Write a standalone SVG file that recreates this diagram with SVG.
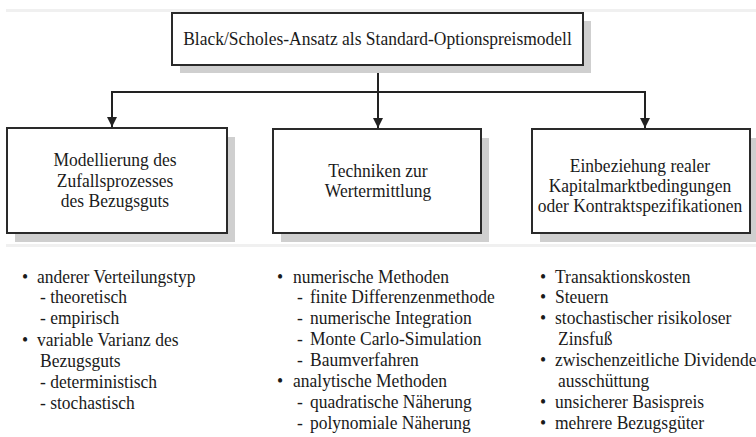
<svg xmlns="http://www.w3.org/2000/svg" width="756" height="437" viewBox="0 0 756 437">
<defs>
<marker id="arr" viewBox="0 0 10 10" refX="10" refY="5" markerWidth="5" markerHeight="5" orient="auto" markerUnits="strokeWidth">
<path d="M0,0 L10,5 L0,10 Z" fill="#222"/>
</marker>
<style>
.box{fill:#fff;stroke:#2a2a2a;stroke-width:2}
.sh{fill:#cfcfcf}
.t{font-family:"Liberation Serif","Times New Roman",serif;font-size:18.5px;fill:#1a1a1a}
.c{text-anchor:middle}
.con{fill:none;stroke:#222;stroke-width:2}
.art{stroke:#f0f0f0;stroke-width:3}
</style>
</defs>
<rect width="756" height="437" fill="#fff"/>
<line class="art" x1="6" y1="10.5" x2="756" y2="10.5"/>
<line class="art" x1="6" y1="245.5" x2="756" y2="245.5"/>

<g id="connectors">
<polyline class="con" points="378,65 378,92"/>
<polyline class="con" points="112,92 645,92"/>
<line class="con" x1="112" y1="91" x2="112" y2="127" marker-end="url(#arr)"/>
<line class="con" x1="378" y1="92" x2="378" y2="128" marker-end="url(#arr)"/>
<line class="con" x1="645" y1="91" x2="645" y2="128" marker-end="url(#arr)"/>
</g>

<g id="top">
<rect class="sh" x="180" y="21" width="411" height="52"/>
<rect class="box" x="172" y="13" width="411" height="52"/>
<text class="t c" transform="translate(377.5,45) scale(0.946,1)">Black/Scholes-Ansatz als Standard-Optionspreismodell</text>
</g>

<g id="box1">
<rect class="sh" x="15" y="137" width="220" height="105"/>
<rect class="box" x="7" y="128" width="220" height="105"/>
<text class="t c" transform="translate(115,166) scale(0.946,1)">Modellierung des</text>
<text class="t c" transform="translate(115,187) scale(0.946,1)">Zufallsprozesses</text>
<text class="t c" transform="translate(115,207) scale(0.946,1)">des Bezugsguts</text>
</g>

<g id="box2">
<rect class="sh" x="281" y="138" width="208" height="104"/>
<rect class="box" x="273" y="129" width="208" height="104"/>
<text class="t c" transform="translate(378,177) scale(0.946,1)">Techniken zur</text>
<text class="t c" transform="translate(378,197) scale(0.946,1)">Wertermittlung</text>
</g>

<g id="box3">
<rect class="sh" x="540" y="138" width="218" height="104"/>
<rect class="box" x="532" y="129" width="218" height="104"/>
<text class="t c" transform="translate(640,172) scale(0.946,1)">Einbeziehung realer</text>
<text class="t c" transform="translate(640,192) scale(0.946,1)">Kapitalmarktbedingungen</text>
<text class="t c" transform="translate(640,212) scale(0.946,1)">oder Kontraktspezifikationen</text>
</g>

<g id="list1">
<text class="t" transform="translate(22,283) scale(0.946,1)">•</text><text class="t" transform="translate(37,283) scale(0.946,1)">anderer Verteilungstyp</text>
<text class="t" transform="translate(40,303) scale(0.946,1)">- theoretisch</text>
<text class="t" transform="translate(40,324) scale(0.946,1)">- empirisch</text>
<text class="t" transform="translate(22,346) scale(0.946,1)">•</text><text class="t" transform="translate(37,346) scale(0.946,1)">variable Varianz des</text>
<text class="t" transform="translate(40,367) scale(0.946,1)">Bezugsguts</text>
<text class="t" transform="translate(40,388) scale(0.946,1)">- deterministisch</text>
<text class="t" transform="translate(40,409) scale(0.946,1)">- stochastisch</text>
</g>

<g id="list2">
<text class="t" transform="translate(277,283) scale(0.946,1)">•</text><text class="t" transform="translate(293,283) scale(0.946,1)">numerische Methoden</text>
<text class="t" transform="translate(297,303) scale(0.946,1)">-</text><text class="t" transform="translate(310,303) scale(0.946,1)">finite Differenzenmethode</text>
<text class="t" transform="translate(297,324) scale(0.946,1)">-</text><text class="t" transform="translate(310,324) scale(0.946,1)">numerische Integration</text>
<text class="t" transform="translate(297,345) scale(0.946,1)">-</text><text class="t" transform="translate(310,345) scale(0.946,1)">Monte Carlo-Simulation</text>
<text class="t" transform="translate(297,366) scale(0.946,1)">-</text><text class="t" transform="translate(310,366) scale(0.946,1)">Baumverfahren</text>
<text class="t" transform="translate(277,387) scale(0.946,1)">•</text><text class="t" transform="translate(293,387) scale(0.946,1)">analytische Methoden</text>
<text class="t" transform="translate(297,408) scale(0.946,1)">-</text><text class="t" transform="translate(310,408) scale(0.946,1)">quadratische Näherung</text>
<text class="t" transform="translate(297,429) scale(0.946,1)">-</text><text class="t" transform="translate(310,429) scale(0.946,1)">polynomiale Näherung</text>
</g>

<g id="list3">
<text class="t" transform="translate(540,283) scale(0.946,1)">•</text><text class="t" transform="translate(555,283) scale(0.946,1)">Transaktionskosten</text>
<text class="t" transform="translate(540,303) scale(0.946,1)">•</text><text class="t" transform="translate(555,303) scale(0.946,1)">Steuern</text>
<text class="t" transform="translate(540,324) scale(0.946,1)">•</text><text class="t" transform="translate(555,324) scale(0.946,1)">stochastischer risikoloser</text>
<text class="t" transform="translate(558,345) scale(0.946,1)">Zinsfuß</text>
<text class="t" transform="translate(540,366) scale(0.946,1)">•</text><text class="t" transform="translate(555,366) scale(0.946,1)">zwischenzeitliche Dividende</text>
<text class="t" transform="translate(558,387) scale(0.946,1)">ausschüttung</text>
<text class="t" transform="translate(540,408) scale(0.946,1)">•</text><text class="t" transform="translate(555,408) scale(0.946,1)">unsicherer Basispreis</text>
<text class="t" transform="translate(540,429) scale(0.946,1)">•</text><text class="t" transform="translate(555,429) scale(0.946,1)">mehrere Bezugsgüter</text>
</g>
</svg>
